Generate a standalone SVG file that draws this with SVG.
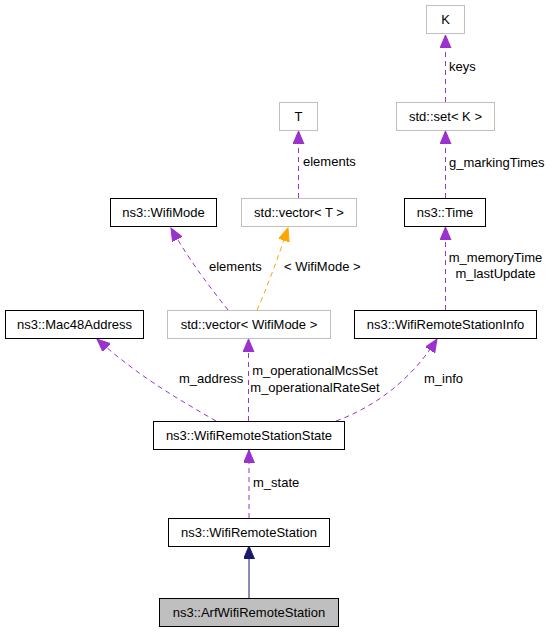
<svg xmlns="http://www.w3.org/2000/svg" width="552" height="632" viewBox="0 0 552 632">
<style>
text{font-family:"Liberation Sans",Arial,sans-serif;font-size:13px;fill:#000}
.n text{text-anchor:middle}
.b{fill:#fff;stroke:#000;stroke-width:1}
.g{fill:#fff;stroke:#bfbfbf;stroke-width:1}
.cur{fill:#bfbfbf;stroke:#000;stroke-width:1}
.p{fill:none;stroke:#9a32cd;stroke-width:1;stroke-dasharray:5,4}
.o{fill:none;stroke:#ffa500;stroke-width:1;stroke-dasharray:5,4}
.s{fill:none;stroke:#191970;stroke-width:1}
</style>
<defs>
<marker id="ap" markerUnits="userSpaceOnUse" markerWidth="14" markerHeight="12" refX="13" refY="5.5" orient="auto"><path d="M0,0 L13,5.5 L0,11 z" fill="#9a32cd" stroke="#9a32cd" stroke-width="1"/></marker>
<marker id="ao" markerUnits="userSpaceOnUse" markerWidth="14" markerHeight="12" refX="13" refY="5.5" orient="auto"><path d="M0,0 L13,5.5 L0,11 z" fill="#ffa500" stroke="#ffa500" stroke-width="1"/></marker>
<marker id="an" markerUnits="userSpaceOnUse" markerWidth="14" markerHeight="12" refX="13" refY="5.5" orient="auto"><path d="M0,0 L13,5.5 L0,11 z" fill="#191970" stroke="#191970" stroke-width="1"/></marker>
</defs>
<g id="edges">
<path class="p" d="M445.5,102 V35" marker-end="url(#ap)"/>
<text x="449" y="71">keys</text>
<path class="p" d="M298.5,198 V131" marker-end="url(#ap)"/>
<text x="303" y="166">elements</text>
<path class="p" d="M445.5,198 V131" marker-end="url(#ap)"/>
<text x="449" y="167">g_markingTimes</text>
<path class="p" d="M228,310 C213,291 190,262 171,228" marker-end="url(#ap)"/>
<text x="209" y="271">elements</text>
<path class="o" d="M257,310 C266,290 278,258 288,228" marker-end="url(#ao)"/>
<text x="284" y="271">&lt; WifiMode &gt;</text>
<path class="p" d="M445.5,310 V227" marker-end="url(#ap)"/>
<text x="495.5" y="262" text-anchor="middle">m_memoryTime</text>
<text x="495.5" y="278" text-anchor="middle">m_lastUpdate</text>
<path class="p" d="M216,421 C185,403 140,378 97,339" marker-end="url(#ap)"/>
<text x="179" y="383">m_address</text>
<path class="p" d="M248.5,421 V339" marker-end="url(#ap)"/>
<text x="315" y="375" text-anchor="middle">m_operationalMcsSet</text>
<text x="315" y="392" text-anchor="middle">m_operationalRateSet</text>
<path class="p" d="M336,421 C372,408 410,382 437,339" marker-end="url(#ap)"/>
<text x="424" y="383">m_info</text>
<path class="p" d="M249,518 V450" marker-end="url(#ap)"/>
<text x="253" y="487">m_state</text>
<path class="s" d="M249,598 V546" marker-end="url(#an)"/>
</g>
<g id="K" class="n"><rect class="g" x="426.5" y="5.5" width="38" height="28"/><text x="445.5" y="24">K</text></g>
<g id="T" class="n"><rect class="g" x="279.5" y="102.5" width="38" height="28"/><text x="298.5" y="121">T</text></g>
<g id="stdset" class="n"><rect class="g" x="396.5" y="102.5" width="98" height="28"/><text x="445.5" y="121">std::set&lt; K &gt;</text></g>
<g id="WifiMode" class="n"><rect class="b" x="110.5" y="198.5" width="106" height="28"/><text x="163.5" y="217">ns3::WifiMode</text></g>
<g id="vectorT" class="n"><rect class="g" x="241.5" y="198.5" width="115" height="28"/><text x="299" y="217">std::vector&lt; T &gt;</text></g>
<g id="Time" class="n"><rect class="b" x="404.5" y="198.5" width="81" height="28"/><text x="445" y="217">ns3::Time</text></g>
<g id="Mac48Address" class="n"><rect class="b" x="5.5" y="310.5" width="138" height="28"/><text x="74.5" y="329">ns3::Mac48Address</text></g>
<g id="vectorWifiMode" class="n"><rect class="g" x="167.5" y="310.5" width="163" height="28"/><text x="249" y="329">std::vector&lt; WifiMode &gt;</text></g>
<g id="WifiRemoteStationInfo" class="n"><rect class="b" x="354.5" y="310.5" width="182" height="28"/><text x="445.5" y="329">ns3::WifiRemoteStationInfo</text></g>
<g id="WifiRemoteStationState" class="n"><rect class="b" x="153.5" y="421.5" width="191" height="28"/><text x="249" y="440">ns3::WifiRemoteStationState</text></g>
<g id="WifiRemoteStation" class="n"><rect class="b" x="168.5" y="518.5" width="161" height="28"/><text x="249" y="537">ns3::WifiRemoteStation</text></g>
<g id="ArfWifiRemoteStation" class="n"><rect class="cur" x="159.5" y="598.5" width="179" height="28"/><text x="249" y="617">ns3::ArfWifiRemoteStation</text></g>
</svg>
